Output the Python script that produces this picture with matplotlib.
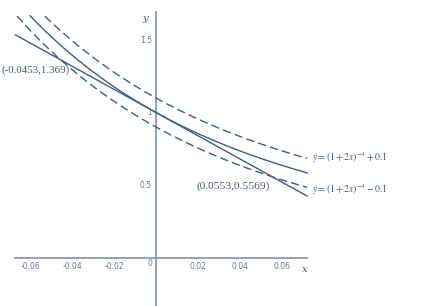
import numpy as np
import matplotlib.pyplot as plt

# curve y = (1+2x)^-4, band +/- 0.1 and tangent y = 1 - 8x
x_curve = np.linspace(-0.07, 0.072, 300)
shift = 0.1
x_line = [-0.067, 0.072]
points = [(-0.0453, 1.369), (0.0553, 0.5569)]
x_ticks = [-0.06, -0.04, -0.02, 0.02, 0.04, 0.06]
y_ticks = [0.5, 1, 1.5]

line_col = '#3d5c8c'
axis_col = '#7f8fc0'
txt_col = '#4a5a7a'

fig = plt.figure(figsize=(4.46, 3.06), dpi=100)
ax = fig.add_axes([0, 0, 1, 1])
ax.set_xlim(-0.0743, 0.1381)
ax.set_ylim(-0.334, 1.776)
ax.axis('off')

# axes
ax.plot([-0.067, 0.072], [0, 0], color=axis_col, lw=1.2)
ax.plot([0, 0], [-0.34, 1.69], color=axis_col, lw=1.2)
for t in x_ticks:
    ax.text(t, -0.03, '%g' % t if t < 0 else '%.2f' % t, ha='center', va='top',
            fontsize=5.5, color='#6a7890')
ax.text(-0.0015, -0.01, '0', ha='right', va='top', fontsize=5.5, color='#6a7890')
for t in y_ticks:
    ax.text(-0.002, t, '%g' % t, ha='right', va='center', fontsize=5.5, color='#6a7890')
ax.text(0.0695, -0.05, 'x', style='italic', family='DejaVu Serif', fontsize=7.5,
        color=txt_col, ha='left', va='top')
ax.text(-0.0035, 1.65, 'y', style='italic', family='DejaVu Serif', fontsize=7.5,
        color=txt_col, ha='right', va='center')

# curves, clipped at the top
top = 1.67
f = (1 + 2 * x_curve) ** -4
for yy, ls in [(f, '-'), (f + shift, '--'), (f - shift, '--')]:
    yc = np.where(yy <= top, yy, np.nan)
    ax.plot(x_curve, yc, color=line_col, lw=1.0, ls=ls, dashes=(6, 3) if ls == '--' else ())
xl = np.array(x_line)
ax.plot(xl, 1 - 8 * xl, color=line_col, lw=1.0)

# labels
ax.text(-0.0737, 1.293, '(%.4f,%.3f)' % points[0], ha='left', va='center',
        family='Liberation Serif', fontsize=7.8, color=txt_col)
ax.text(0.0367, 0.493, '(%.4f,%.4f)' % points[1], ha='center', va='center',
        family='Liberation Serif', fontsize=8.2, color=txt_col)
ax.text(0.0745, 0.693, r'$y=\left(1+2x\right)^{-4}+0.1$', ha='left', va='center',
        fontsize=7, color=txt_col, math_fontfamily='stix')
ax.text(0.0745, 0.466, r'$y=\left(1+2x\right)^{-4}-0.1$', ha='left', va='center',
        fontsize=7, color=txt_col, math_fontfamily='stix')

fig.savefig('out.png', dpi=100)
